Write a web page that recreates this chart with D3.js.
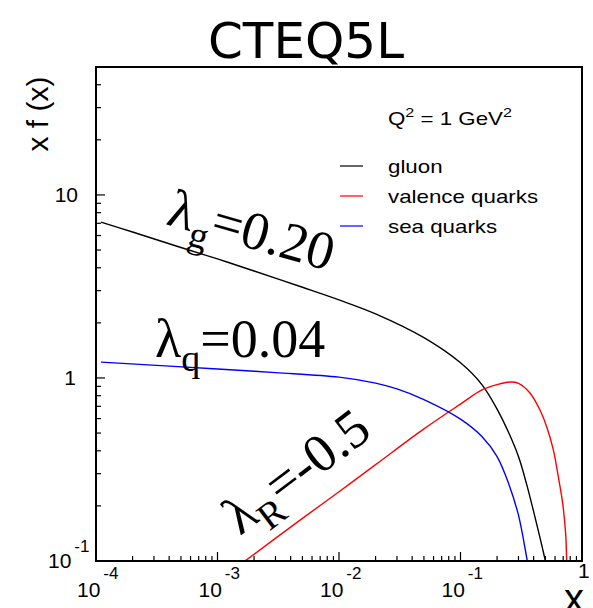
<!DOCTYPE html>
<meta charset="utf-8">
<title>CTEQ5L</title>
<style>
body { margin: 0; background: #fff; }
text { font-family: "Liberation Sans", Arial, sans-serif; }
</style>
<body></body>
<script src="https://cdn.jsdelivr.net/npm/d3@7"></script>
<script>

// values
var gluonX = [1.1e-4, 2e-4, 5e-4, 1e-3, 2e-3, 5e-3, 1e-2, 2e-2, 5e-2, 0.1, 0.15, 0.2, 0.25, 0.3, 0.35, 0.4, 0.45, 0.5, 0.53];
var gluonY = [7.1, 6.27, 5.16, 4.47, 3.84, 3.13, 2.67, 2.24, 1.66, 1.21, 0.92, 0.676, 0.50, 0.372, 0.263, 0.186, 0.135, 0.10, 0.085];

var valenceX = [1.5e-3, 5e-3, 1e-2, 2e-2, 5e-2, 0.1, 0.15, 0.2, 0.255, 0.3, 0.373, 0.451, 0.512, 0.581, 0.638, 0.693, 0.733, 0.748, 0.755];
var valenceY = [0.0945, 0.171, 0.239, 0.336, 0.527, 0.72, 0.86, 0.92, 0.95, 0.935, 0.828, 0.668, 0.542, 0.405, 0.289, 0.207, 0.142, 0.101, 0.085];

var seaX = [1.1e-4, 1e-3, 3e-3, 1e-2, 2e-2, 3e-2, 5e-2, 0.1, 0.15, 0.2, 0.25, 0.3, 0.35, 0.365];
var seaY = [1.22, 1.12, 1.07, 1.01, 0.937, 0.871, 0.762, 0.596, 0.479, 0.372, 0.263, 0.178, 0.105, 0.089];

var seriesNames = ["gluon", "valence quarks", "sea quarks"];
var seriesColors = ["#000000", "#ff0000", "#0000ff"];

var xMajor = [1e-4, 1e-3, 1e-2, 1e-1, 1];
var xMajorExp = ["-4", "-3", "-2", "-1", ""];

var width = 593,
    height = 608;

// frame edges (don't call it "top", window.top is read only)
var fLeft = 96, fRight = 582, fTop = 67, fBottom = 561;

var svg = d3.select("body").append("svg")
    .attr("width", width)
    .attr("height", height);

var x = d3.scaleLog().domain([1e-4, 1]).range([fLeft, fRight]);
var y = d3.scaleLog().domain([0.1, 50]).range([fBottom, fTop]);

// clip curves to the frame
svg.append("clipPath").attr("id", "frame")
  .append("rect")
    .attr("x", fLeft).attr("y", fTop)
    .attr("width", fRight - fLeft).attr("height", fBottom - fTop);

var line = d3.line()
    .x(function(d) { return x(d[0]); })
    .y(function(d) { return y(d[1]); })
    .curve(d3.curveCatmullRom.alpha(0.5));

var series = [
  d3.zip(gluonX, gluonY),
  d3.zip(valenceX, valenceY),
  d3.zip(seaX, seaY)
];

svg.append("g").attr("clip-path", "url(#frame)")
  .selectAll("path").data(series).enter().append("path")
    .attr("d", line)
    .attr("fill", "none")
    .attr("stroke", function(d, i) { return seriesColors[i]; })
    .attr("stroke-width", 1.4);

// ticks, ROOT style: inside, left and bottom only
var xTicks = [];
for (var e = -4; e < 0; e++) {
  for (var k = 1; k < 10; k++) xTicks.push([k * Math.pow(10, e), k == 1]);
}
xTicks.push([1, true]);

svg.append("g").selectAll("line").data(xTicks).enter().append("line")
    .attr("x1", function(d) { return x(d[0]); })
    .attr("x2", function(d) { return x(d[0]); })
    .attr("y1", fBottom)
    .attr("y2", function(d) { return fBottom - (d[1] ? 9 : 5); })
    .attr("stroke", "#000").attr("stroke-width", 1.2);

var yTicks = [];
for (var e = -1; e < 2; e++) {
  for (var k = 1; k < 10; k++) {
    var v = k * Math.pow(10, e);
    if (v < 50) yTicks.push([v, k == 1]);
  }
}

svg.append("g").selectAll("line").data(yTicks).enter().append("line")
    .attr("y1", function(d) { return y(d[0]); })
    .attr("y2", function(d) { return y(d[0]); })
    .attr("x1", fLeft)
    .attr("x2", function(d) { return fLeft + (d[1] ? 9 : 5); })
    .attr("stroke", "#000").attr("stroke-width", 1.2);

// frame
svg.append("rect")
    .attr("x", fLeft).attr("y", fTop)
    .attr("width", fRight - fLeft).attr("height", fBottom - fTop)
    .attr("fill", "none").attr("stroke", "#000").attr("stroke-width", 2);

// x labels
xMajor.forEach(function(v, i) {
  var t = svg.append("text")
      .attr("font-size", 21);
  if (xMajorExp[i] == "") {
    t.attr("x", x(v) - 4).attr("y", 578).text("1");
  } else {
    t.attr("x", x(v) - 19).attr("y", 597);
    t.append("tspan").text("10");
    t.append("tspan").attr("dx", 3).attr("dy", -18).attr("font-size", 17).text(xMajorExp[i]);
  }
});

// y labels
svg.append("text").attr("font-size", 21).attr("text-anchor", "end")
    .attr("x", 78).attr("y", y(10) + 7).text("10");
svg.append("text").attr("font-size", 21).attr("text-anchor", "end")
    .attr("x", 76).attr("y", y(1) + 7).text("1");
var yl = svg.append("text").attr("font-size", 21)
    .attr("x", 48).attr("y", y(0.1) + 7);
yl.append("tspan").text("10");
yl.append("tspan").attr("dx", 3).attr("dy", -16).attr("font-size", 17).text("-1");

// axis titles
svg.append("text")
    .attr("transform", "translate(48,114) rotate(-90)")
    .attr("text-anchor", "middle")
    .attr("font-size", 30)
    .text("x f (x)");

svg.append("text")
    .attr("x", 584).attr("y", 612)
    .attr("text-anchor", "end")
    .attr("font-size", 40)
    .text("x");

// title
svg.append("text")
    .attr("x", 306).attr("y", 58)
    .attr("text-anchor", "middle")
    .style("font-family", "'DejaVu Sans', sans-serif")
    .attr("font-size", 50)
    .text("CTEQ5L");

// legend, text a bit wider than the font gives
var q = svg.append("text")
    .attr("transform", "translate(388,125) scale(1.24,1)")
    .attr("font-size", 18);
q.append("tspan").text("Q");
q.append("tspan").attr("dy", -8).attr("font-size", 13).text("2");
q.append("tspan").attr("dy", 8).text(" = 1 GeV");
q.append("tspan").attr("dy", -8).attr("font-size", 13).text("2");

var legendY = [173, 203, 233];
seriesNames.forEach(function(n, i) {
  svg.append("line")
      .attr("x1", 340).attr("x2", 363)
      .attr("y1", legendY[i] - 7).attr("y2", legendY[i] - 7)
      .attr("stroke", seriesColors[i]).attr("stroke-width", 1.2);
  svg.append("text")
      .attr("transform", "translate(388," + legendY[i] + ") scale(1.24,1)")
      .attr("font-size", 18)
      .text(n);
});

// lambda annotations
function lambda(tx, ty, rot, sub, val) {
  var t = svg.append("text")
      .attr("transform", "translate(" + tx + "," + ty + ") rotate(" + rot + ")")
      .style("font-family", "'Liberation Serif', 'Times New Roman', serif")
      .attr("font-size", 54);
  t.append("tspan").text("\u03bb");
  t.append("tspan").attr("dy", 14).attr("font-size", 38).text(sub);
  t.append("tspan").attr("dy", -14).text("=" + val);
}

lambda(165, 224, 16, "g", "0.20");
lambda(155, 357, 0, "q", "0.04");
lambda(240, 536, -37, "R", "-0.5");

</script>
